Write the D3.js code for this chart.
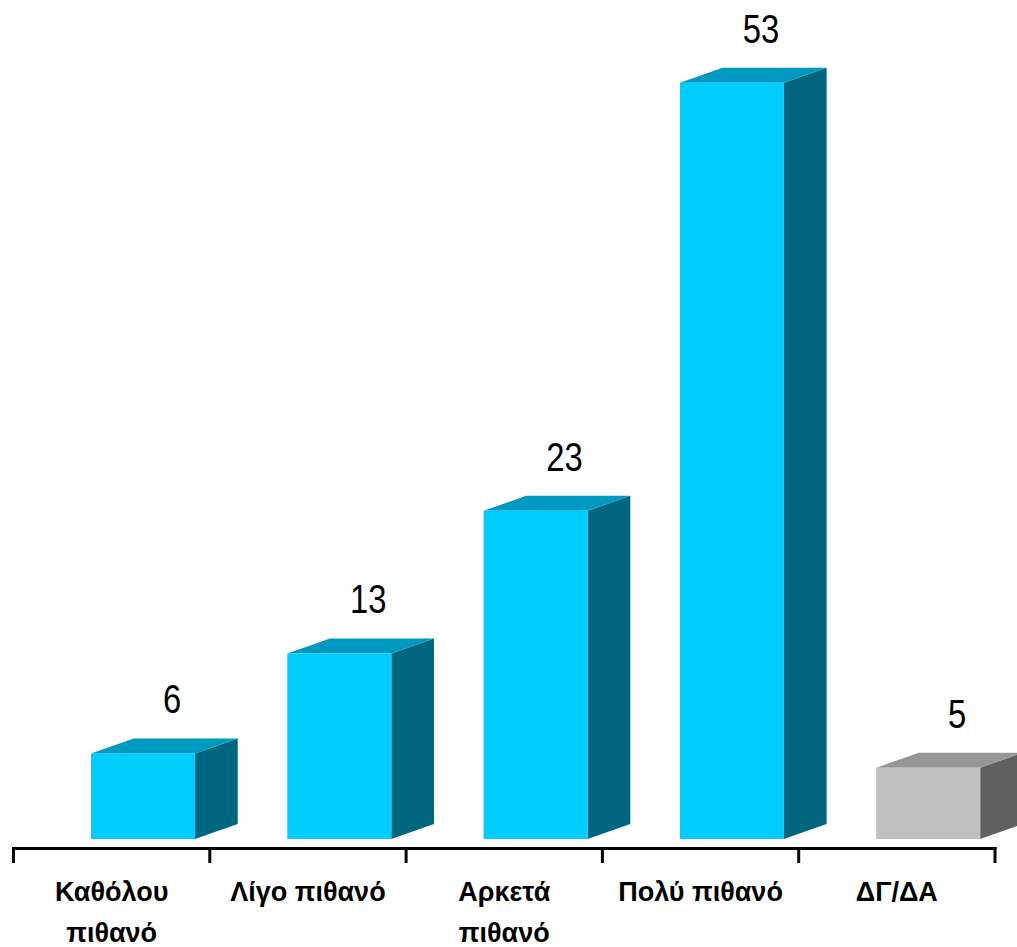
<!DOCTYPE html>
<html>
<head>
<meta charset="utf-8">
<script src="https://cdn.jsdelivr.net/npm/d3@7"></script>
<style>
  html, body { margin: 0; padding: 0; background: #fff; }
  svg { display: block; }
</style>
</head>
<body>
<div id="chart"></div>
<script>
const categories = [["Καθόλου", "πιθανό"], ["Λίγο πιθανό"], ["Αρκετά", "πιθανό"], ["Πολύ πιθανό"], ["ΔΓ/ΔΑ"]];
const values = [6, 13, 23, 53, 5];
const isNoAnswer = [false, false, false, false, true];

const W = 1017, H = 947;
const svg = d3.select("#chart").append("svg").attr("width", W).attr("height", H);

const keys = categories.map((c, i) => i);
const x = d3.scaleBand().domain(keys).range([13.5, 995]).paddingInner(0).paddingOuter(0);
const y = d3.scaleLinear().domain([0, 53]).range([839, 82.7]);

const barW = 104, dx = 42.7, dy = 15;
const barOffset = 77.5;

const colors = {
  normal: { front: "#00CCFF", top: "#0099C0", side: "#006680" },
  na: { front: "#C0C0C0", top: "#969696", side: "#5F5F5F" }
};

const bars = svg.append("g").selectAll("g").data(keys).join("g");

bars.each(function(i) {
  const g = d3.select(this);
  const c = isNoAnswer[i] ? colors.na : colors.normal;
  const x0 = x(i) + barOffset, x1 = x0 + barW;
  const yt = y(values[i]), yb = y(0);
  g.append("path")
    .attr("d", `M${x1},${yb} L${x1},${yt} L${x1 + dx},${yt - dy} L${x1 + dx},${yb - dy} Z`)
    .attr("fill", c.side);
  g.append("path")
    .attr("d", `M${x0},${yt} L${x0 + dx},${yt - dy} L${x1 + dx},${yt - dy} L${x1},${yt} Z`)
    .attr("fill", c.top);
  g.append("rect")
    .attr("x", x0).attr("y", yt).attr("width", barW).attr("height", yb - yt)
    .attr("fill", c.front);
  g.append("text")
    .attr("transform", `translate(${x0 + barW / 2 + 29},${yt - 40}) scale(0.82,1)`)
    .attr("text-anchor", "middle")
    .attr("font-family", "'Liberation Sans', Arial, sans-serif")
    .attr("font-size", 40)
    .attr("fill", "#000")
    .text(values[i]);
});

// axis
const axisG = svg.append("g").attr("transform", "translate(0,848.5)");
const tickPos = keys.map(k => x(k)).concat([x(keys[keys.length - 1]) + x.bandwidth()]);
axisG.append("line")
  .attr("x1", tickPos[0] - 1.5).attr("x2", tickPos[tickPos.length - 1] + 1.5)
  .attr("y1", 0).attr("y2", 0)
  .attr("stroke", "#000").attr("stroke-width", 3);
axisG.selectAll("line.tick").data(tickPos).join("line")
  .attr("class", "tick")
  .attr("x1", d => d).attr("x2", d => d)
  .attr("y1", -1.5).attr("y2", 14.5)
  .attr("stroke", "#000").attr("stroke-width", 3);

// category labels
svg.append("g").selectAll("text").data(keys).join("text")
  .attr("x", k => x(k) + x.bandwidth() / 2)
  .attr("y", 901)
  .attr("text-anchor", "middle")
  .attr("font-family", "'Liberation Sans', Arial, sans-serif")
  .attr("font-weight", "bold")
  .attr("font-size", 27)
  .attr("fill", "#000")
  .each(function(k) {
    const t = d3.select(this);
    categories[k].forEach((line, li) => {
      t.append("tspan")
        .attr("x", x(k) + x.bandwidth() / 2)
        .attr("dy", li === 0 ? 0 : 41)
        .text(line);
    });
  });
</script>
</body>
</html>
